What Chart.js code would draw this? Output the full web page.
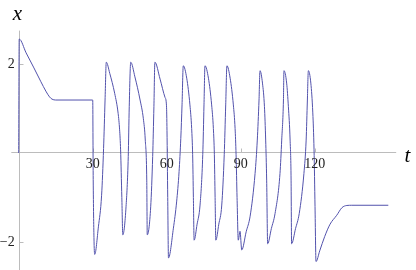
<!DOCTYPE html>
<html>
<head>
<meta charset="utf-8">
<script src="https://cdn.jsdelivr.net/npm/chart.js@4.4.1/dist/chart.umd.min.js"></script>
<style>
  html, body { margin: 0; padding: 0; background: #fff; }
  #wrap { width: 416px; height: 270px; position: relative; }
</style>
</head>
<body>
<div id="wrap"><canvas id="plot"></canvas></div>
<script>
// ===== data =====
// 0..30 : relaxation towards the resting level
const relaxT = [0, 0.2, 3, 6, 9, 11, 12.5, 13.5, 15, 29.9];
const relaxX = [0, 2.56, 2.25, 1.93, 1.6, 1.39, 1.26, 1.21, 1.19, 1.19];

// 30..120 : spiking while the input is on
const spikeT = [
  30.0, 30.2, 30.5, 30.8, 32.3, 33.6, 34.4, 35.0, 35.5,
  36.9, 38.9, 40.3, 40.9, 41.3, 41.8, 42.2,
  43.5, 44.4, 44.8, 45.4,
  47.1, 49.2, 50.5, 51.3, 51.9, 52.1,
  53.5, 54.3, 54.8, 55.2,
  57.3, 59.3, 59.9, 60.1, 60.4, 60.7,
  62.7, 64.0, 65.0, 65.7, 66.2, 66.7,
  68.1, 69.4, 70.1, 70.5, 70.8, 71.1,
  72.3, 73.5, 74.6, 75.1, 75.5,
  76.9, 78.2, 78.9, 79.3, 79.6, 79.9,
  81.1, 82.3, 83.3, 83.9, 84.4,
  85.7, 87.0, 87.7, 88.1, 88.5, 89.0, 89.7, 90.4,
  92.2, 93.8, 95.8, 96.7, 97.4, 97.8,
  98.8, 99.6, 100.1, 100.5, 100.9,
  102.4, 103.9, 105.9, 106.6, 107.3, 107.5,
  108.6, 109.3, 110.0, 110.4, 110.6,
  112.2, 113.7, 115.6, 116.5, 117.0, 117.4,
  118.4, 119.2, 119.7, 120.1, 120.5
];
const spikeX = [
  1.19, -0.6, -1.9, -2.28, -1.66, -0.95, 0.1, 1.19, 2.04,
  1.79, 1.34, 0.89, 0.52, 0.07, -1.0, -1.84,
  -1.21, -0.08, 1.04, 2.04,
  1.71, 1.19, 0.78, 0.29, -0.61, -1.84,
  -1.21, -0.08, 1.04, 2.04,
  1.66, 1.25, 1.06, 0.5, -1.0, -2.36,
  -1.69, -1.1, -0.42, 0.33, 1.08, 1.96,
  1.68, 1.08, 0.55, -0.04, -1.0, -1.96,
  -1.6, -1.17, -0.04, 1.08, 1.96,
  1.68, 1.08, 0.55, -0.04, -1.0, -1.96,
  -1.6, -1.17, -0.04, 1.08, 1.96,
  1.68, 1.08, 0.55, -0.04, -1.0, -1.96, -1.76, -2.18,
  -1.77, -1.42, -0.46, 0.29, 1.19, 1.85,
  1.57, 1.04, 0.29, -0.61, -2.04,
  -1.7, -1.36, -0.46, 0.29, 1.19, 1.85,
  1.57, 1.04, 0.29, -0.61, -2.04,
  -1.7, -1.36, -0.46, 0.29, 1.19, 1.85,
  1.57, 0.9, 0.07, -1.2, -2.44
];

// 120..150 : back to rest at the lower level
const recoverT = [122, 124, 126.2, 128.9, 131.0, 133.0, 135, 149.8];
const recoverX = [-2.2, -1.88, -1.6, -1.4, -1.23, -1.18, -1.175, -1.175];

const xTickValues = [30, 60, 90, 120];
const yTickValues = [-2, 2];
const yTickLabels = ['\u22122', '2'];

const lineColor = '#5252ac';
const axisColor = '#bcbcbc';

// ===== build points =====
const allT = relaxT.concat(spikeT, recoverT);
const allX = relaxX.concat(spikeX, recoverX);
const points = allT.map((t, i) => ({ x: t, y: allX[i] }));

// axes crossing at the origin, Mathematica style
const originAxes = {
    id: 'originAxes',
    beforeDatasetsDraw(chart) {
        const { ctx, chartArea } = chart;
        const sx = chart.scales.x, sy = chart.scales.y;
        const ox = Math.round(sx.getPixelForValue(0)) + 0.5;
        const oy = Math.floor(sy.getPixelForValue(0)) + 0.5;
        ctx.save();
        ctx.strokeStyle = axisColor;
        ctx.lineWidth = 1;
        ctx.beginPath();
        ctx.moveTo(chartArea.left, oy);
        ctx.lineTo(chartArea.right, oy);
        ctx.moveTo(ox, chartArea.top);
        ctx.lineTo(ox, chartArea.bottom);
        // tick marks
        xTickValues.forEach(v => {
            const px = Math.round(sx.getPixelForValue(v)) + 0.5;
            ctx.moveTo(px, oy);
            ctx.lineTo(px, oy - 4);
        });
        yTickValues.forEach(v => {
            const py = Math.round(sy.getPixelForValue(v)) + 0.5;
            ctx.moveTo(ox, py);
            ctx.lineTo(ox + 4, py);
        });
        ctx.stroke();
        ctx.restore();
    },
    afterDraw(chart) {
        const { ctx } = chart;
        const sx = chart.scales.x, sy = chart.scales.y;
        const ox = sx.getPixelForValue(0);
        const oy = sy.getPixelForValue(0);
        ctx.save();
        ctx.fillStyle = '#222';
        ctx.font = '14px "Liberation Serif", "DejaVu Serif", serif';
        ctx.textAlign = 'center';
        ctx.textBaseline = 'top';
        xTickValues.forEach(v => {
            ctx.fillText(String(v), sx.getPixelForValue(v), oy + 4);
        });
        ctx.textAlign = 'right';
        ctx.textBaseline = 'middle';
        yTickValues.forEach((v, i) => {
            ctx.fillText(yTickLabels[i], ox - 4, sy.getPixelForValue(v) + 0.5);
        });
        // axis names
        ctx.fillStyle = '#000';
        ctx.font = 'italic 21px "Liberation Serif", "DejaVu Serif", serif';
        ctx.textAlign = 'center';
        ctx.textBaseline = 'alphabetic';
        ctx.fillText('x', 17.5, 20);
        ctx.fillText('t', 407.5, 162);
        ctx.restore();
    }
};

const chart = new Chart(document.getElementById('plot'), {
    type: 'line',
    data: {
        datasets: [{
            data: points,
            borderColor: lineColor,
            borderWidth: 1,
            pointRadius: 0,
            fill: false,
            cubicInterpolationMode: 'monotone'
        }]
    },
    options: {
        responsive: true,
        maintainAspectRatio: false,
        animation: false,
        layout: { padding: { left: 11.3, right: 19.8, top: 30.6, bottom: 0 } },
        scales: {
            x: { type: 'linear', min: -3, max: 153, display: false },
            y: { type: 'linear', min: -2.63, max: 2.75, display: false }
        },
        plugins: {
            legend: { display: false },
            tooltip: { enabled: false }
        }
    },
    plugins: [originAxes]
});
</script>
</body>
</html>
